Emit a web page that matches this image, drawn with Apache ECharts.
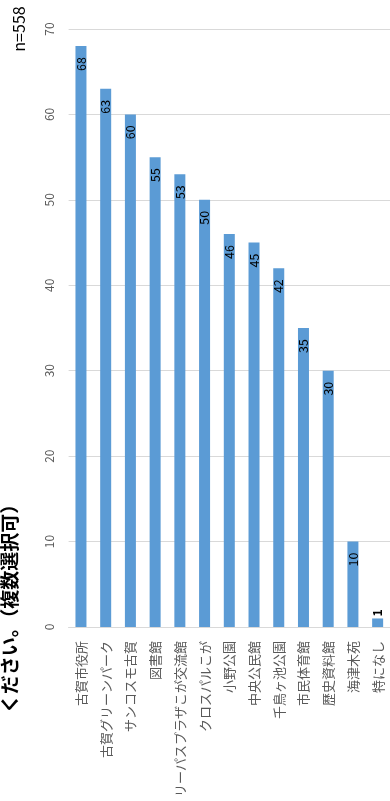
<!DOCTYPE html>
<html>
<head>
<meta charset="utf-8">
<script src="https://cdn.jsdelivr.net/npm/echarts@6/dist/echarts.min.js"></script>
<style>
html,body{margin:0;padding:0;background:#fff;}
#chart{width:390px;height:801px;}
</style>
</head>
<body>
<div id="chart"></div>
<script>
const categories = ['古賀市役所','古賀グリーンパーク','サンコスモ古賀','図書館','リーパスプラザこが交流館','クロスパルこが','小野公園','中央公民館','千鳥ヶ池公園','市民体育館','歴史資料館','海津木苑','特になし'];
const values = [68,63,60,55,53,50,46,45,42,35,30,10,1];
const titleText = 'ください。（複数選択可）';
const nText = 'n=558';

const chart = echarts.init(document.getElementById('chart'), null, {renderer:'canvas'});
const font = '"Noto Sans CJK JP", "Noto Sans", sans-serif';
const data = values.map((v) => {
  if (v < 5) {
    return {value: v, label: {position: 'top', align: 'left', distance: 2, fontWeight: 'bold'}};
  }
  return v;
});
chart.setOption({
  animation: false,
  grid: {left: 68.6, right: -1.4, top: 29, bottom: 174, containLabel: false},
  xAxis: {
    type: 'category',
    data: categories,
    axisLine: {show: true, lineStyle: {color: '#d9d9d9', width: 1}},
    axisTick: {show: false},
    axisLabel: {interval: 0, rotate: 90, color: '#595959', fontSize: 13, margin: 14, fontFamily: font}
  },
  yAxis: {
    type: 'value',
    min: 0, max: 70, interval: 10,
    axisLine: {show: false},
    axisTick: {show: false},
    splitLine: {lineStyle: {color: '#d9d9d9', width: 1}},
    axisLabel: {rotate: 90, color: '#595959', fontSize: 12, margin: 13, fontFamily: font}
  },
  series: [{
    type: 'bar',
    data: data,
    barWidth: 11,
    itemStyle: {color: '#5b9bd5'},
    label: {
      show: true,
      position: 'insideTop',
      rotate: 90,
      align: 'right',
      verticalAlign: 'middle',
      distance: 11,
      color: '#000',
      fontSize: 12.5,
      fontFamily: font
    }
  }],
  graphic: [
    {type: 'text', x: 19, y: 29, rotation: Math.PI/2,
     style: {text: nText, font: '16px ' + font, fill: '#000', align: 'center', verticalAlign: 'middle'}},
    {type: 'text', x: 10, y: 604, rotation: Math.PI/2,
     style: {text: titleText, font: 'bold 19px ' + font, fill: '#000', align: 'center', verticalAlign: 'middle'}}
  ]
});
</script>
</body>
</html>
